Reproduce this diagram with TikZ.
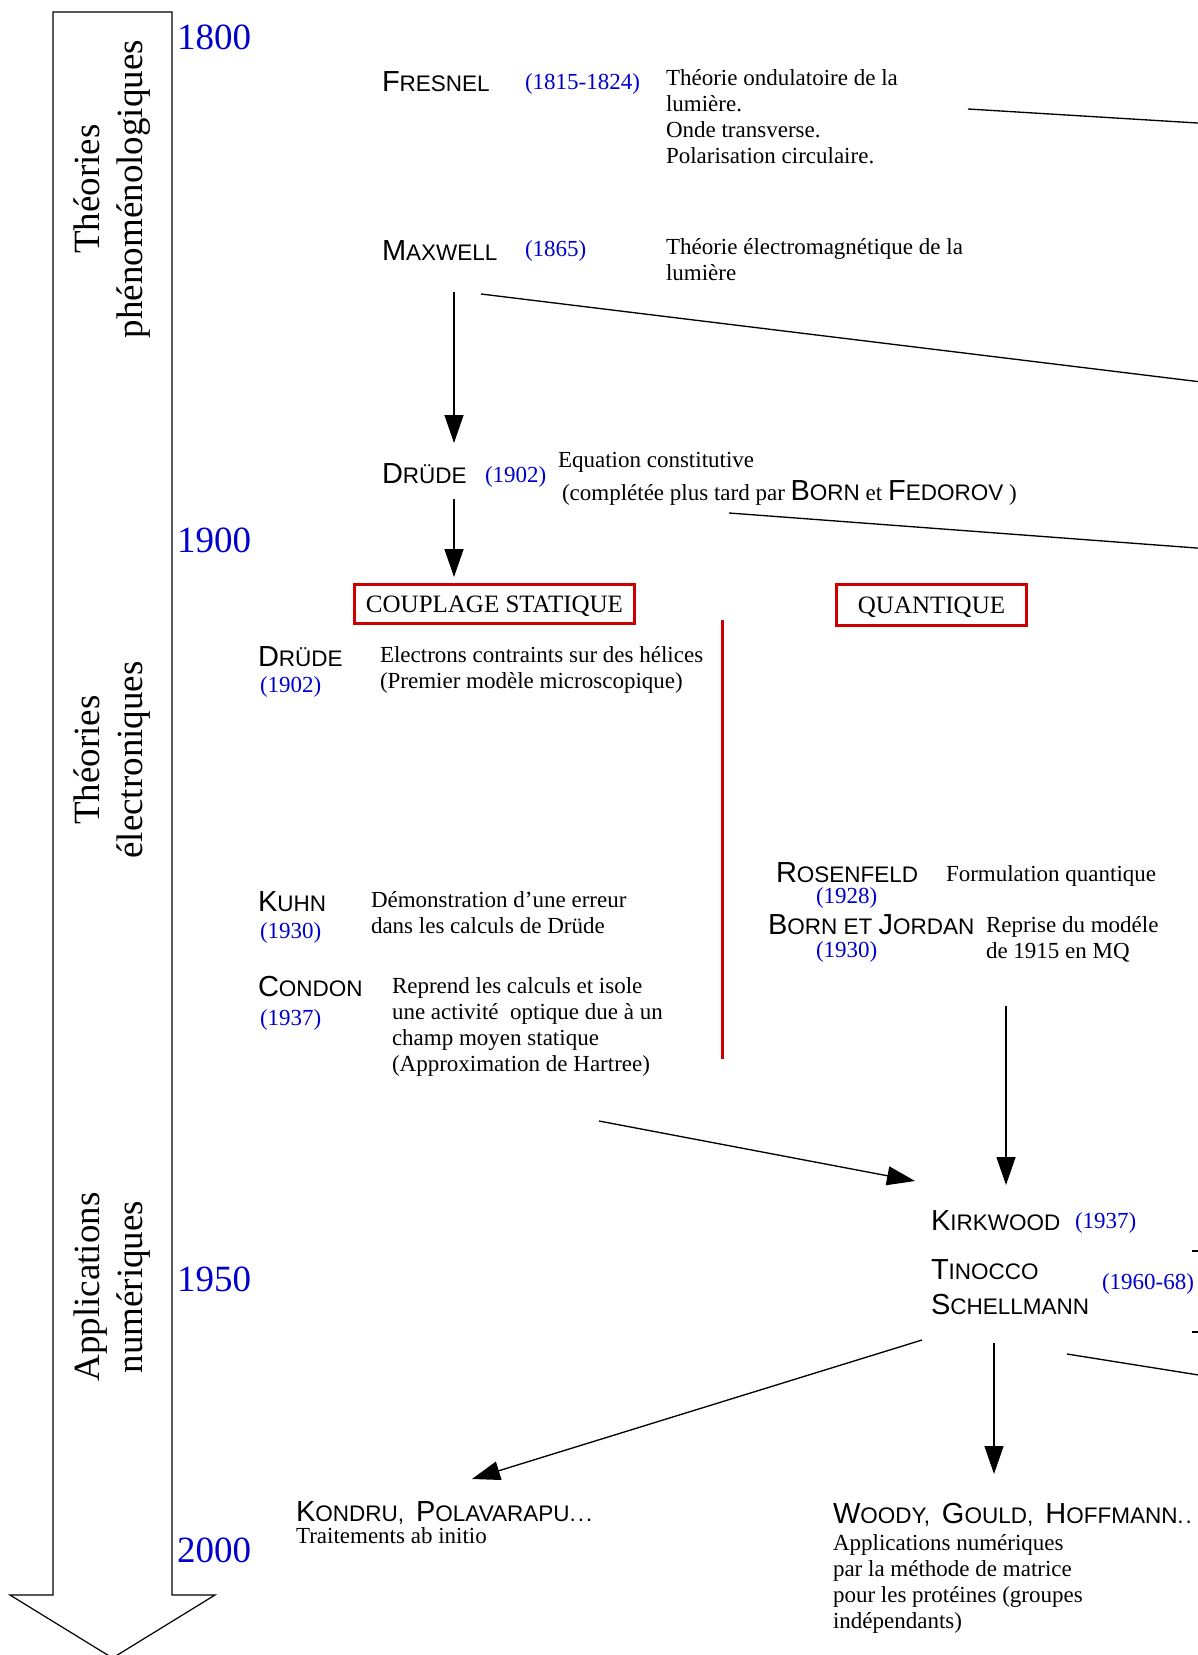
\documentclass[tikz,border=0pt]{standalone}
\usepackage{fontspec}
\setmainfont{Liberation Serif}
\newfontfamily\arialfam{Liberation Sans}
\usetikzlibrary{arrows.meta}
\definecolor{yearblue}{RGB}{0,0,204}
\definecolor{boxred}{RGB}{204,0,0}
\newcommand\NM[2]{{\arialfam\fontsize{21.75pt}{24pt}\selectfont #1\fontsize{16.875pt}{20pt}\selectfont #2}}
\newcommand\ml[1]{\begin{tabular}[t]{@{}l@{}}#1\end{tabular}}
\newcommand\wsp{\hspace{9pt}}
\begin{document}
\begin{tikzpicture}[x=0.75pt,y=-0.75pt,
  every node/.style={inner sep=0pt,outer sep=0pt},
  txt/.style={anchor=base west,font=\fontsize{17.25pt}{19.5pt}\selectfont},
  yr/.style={anchor=base west,text=yearblue,font=\fontsize{17.25pt}{19.5pt}\selectfont},
  bigyr/.style={anchor=base west,text=yearblue,font=\fontsize{27.75pt}{32pt}\selectfont},
  pname/.style={anchor=base west},
  era/.style={rotate=90,align=center,font=\fontsize{27.75pt}{32.25pt}\selectfont},
  redbox/.style={draw=boxred,line width=2.25pt,font=\fontsize{18.75pt}{21pt}\selectfont,text height=12.4pt,text depth=0pt},
  arr/.style={-{Triangle[length=21pt,width=14.25pt]},line width=1pt},
  ln/.style={line width=1pt},
  redline/.style={draw=boxred,line width=2.25pt}
]
\useasboundingbox[fill=white] (0,0) rectangle (1197,1655);

% timeline arrow
\draw[line width=0.9pt] (53,12) -- (172,12) -- (172,1595) -- (215,1595) -- (112.5,1658) -- (10,1595) -- (53,1595) -- cycle;
\node[era] (eraA) at (112,189) {Théories\\phénoménologiques};
\node[era] (eraB) at (112,760) {Théories\\électroniques};
\node[era] (eraC) at (112,1287) {Applications\\numériques};

\node[bigyr] (y1800) at (177,50) {1800};
\node[bigyr] (y1900) at (177,552) {1900};
\node[bigyr] (y1950) at (177,1291) {1950};
\node[bigyr] (y2000) at (177,1562) {2000};

% Fresnel
\node[pname] (fresnel) at (382,92) {\NM{F}{RESNEL}};
\node[yr] (fresnelY) at (525,90) {(1815-1824)};
\node[txt] (fresnelD) at (666,86) {\ml{Théorie ondulatoire de la\\lumière.\\Onde transverse.\\Polarisation circulaire.}};
\coordinate (fresA) at (968,109);
\coordinate (fresB) at (1230,125);
\draw[ln] (fresA) -- (fresB);

% Maxwell
\node[pname] (maxwell) at (382,261) {\NM{M}{AXWELL}};
\node[yr] (maxwellY) at (525,257) {(1865)};
\node[txt] (maxwellD) at (666,254) {\ml{Théorie électromagnétique de la\\lumière}};
\coordinate (maxA) at (481,294);
\coordinate (maxB) at (1230,385.5);
\draw[ln] (maxA) -- (maxB);
\coordinate (maxS) at (454,292);
\coordinate (drudeN) at (454,443);
\draw[arr] (maxS) -- (drudeN);

% Drude
\node[pname] (drude) at (382,483) {\NM{D}{RÜDE}};
\node[yr] (drudeY) at (485,482) {(1902)};
\node[txt] (drudeD1) at (558,467) {Equation constitutive};
\node[txt] (drudeD2) at (562,500) {(complétée plus tard par \NM{B}{ORN} et \NM{F}{EDOROV} )};
\coordinate (druA) at (729,513);
\coordinate (druB) at (1230,550.5);
\draw[ln] (druA) -- (druB);
\coordinate (drudeS) at (454,499);
\coordinate (coupN) at (454,577);
\draw[arr] (drudeS) -- (coupN);

% boxes
\node[redbox,minimum width=210pt,minimum height=29.25pt] (coupl) at (494.5,604) {COUPLAGE STATIQUE};
\node[redbox,minimum width=142.5pt,minimum height=30.75pt] (quant) at (931.5,605) {QUANTIQUE};
\coordinate (sepA) at (722,620);
\coordinate (sepB) at (722,1059);
\draw[redline] (sepA) -- (sepB);

% static coupling column
\node[pname] (drude2) at (258,666) {\NM{D}{RÜDE}};
\node[yr] (drude2Y) at (260,692) {(1902)};
\node[txt] (drude2D) at (380,662) {\ml{Electrons contraints sur des hélices\\(Premier modèle microscopique)}};

\node[pname] (kuhn) at (258,911) {\NM{K}{UHN}};
\node[yr] (kuhnY) at (260,938) {(1930)};
\node[txt] (kuhnD) at (371,907) {\ml{Démonstration d’une erreur\\dans les calculs de Drüde}};

\node[pname] (condon) at (258,996) {\NM{C}{ONDON}};
\node[yr] (condonY) at (260,1025) {(1937)};
\node[txt] (condonD) at (392,993) {\ml{Reprend les calculs et isole\\une activité\ \ optique due à un\\champ moyen statique\\(Approximation de Hartree)}};

% quantum column
\node[pname] (rosen) at (776,882) {\NM{R}{OSENFELD}};
\node[yr] (rosenY) at (816,903) {(1928)};
\node[txt] (rosenD) at (946,881) {Formulation quantique};
\node[pname] (bornj) at (768,934) {\NM{B}{ORN ET }\NM{J}{ORDAN}};
\node[yr] (bornjY) at (816,957) {(1930)};
\node[txt] (bornjD) at (986,932) {\ml{Reprise du modéle\\de 1915 en MQ}};

\coordinate (quS) at (1006,1006);
\coordinate (kirkN) at (1006,1185);
\draw[arr] (quS) -- (kirkN);
\coordinate (conS) at (599,1121);
\coordinate (kirkW) at (915,1181);
\draw[arr] (conS) -- (kirkW);

% Kirkwood etc
\node[pname] (kirk) at (931,1230) {\NM{K}{IRKWOOD}};
\node[yr] (kirkY) at (1075,1228) {(1937)};
\node[pname] (tinocco) at (931,1279) {\NM{T}{INOCCO}};
\node[pname] (schell) at (931,1314) {\NM{S}{CHELLMANN}};
\node[yr] (tsY) at (1102,1289) {(1960-68)};
\coordinate (tick1a) at (1192,1251);
\coordinate (tick1b) at (1200,1251);
\coordinate (tick2a) at (1192,1332);
\coordinate (tick2b) at (1200,1332);
\draw[line width=0.8pt] (tick1a) -- (tick1b);
\draw[line width=0.8pt] (tick2a) -- (tick2b);

\coordinate (tsSW) at (922,1340);
\coordinate (kondN) at (472,1479);
\draw[arr] (tsSW) -- (kondN);
\coordinate (tsS) at (994,1343);
\coordinate (woodyN) at (994,1474);
\draw[arr] (tsS) -- (woodyN);
\coordinate (tsE) at (1067,1354);
\coordinate (tsEE) at (1230,1380);
\draw[ln] (tsE) -- (tsEE);

% bottom
\node[pname] (kondru) at (296,1521) {\NM{K}{ONDRU,\wsp}\NM{P}{OLAVARAPU.\kern1.5pt.\kern1.5pt.}};
\node[txt] (kondruD) at (296,1543) {Traitements ab initio};
\node[pname] (woody) at (833,1523) {\NM{W}{OODY,\wsp}\NM{G}{OULD,\wsp}\NM{H}{OFFMANN.\kern1.5pt.}};
\node[txt] (woodyD) at (833,1550) {\ml{Applications numériques\\par la méthode de matrice\\pour les protéines (groupes\\indépendants)}};
\end{tikzpicture}
\end{document}
